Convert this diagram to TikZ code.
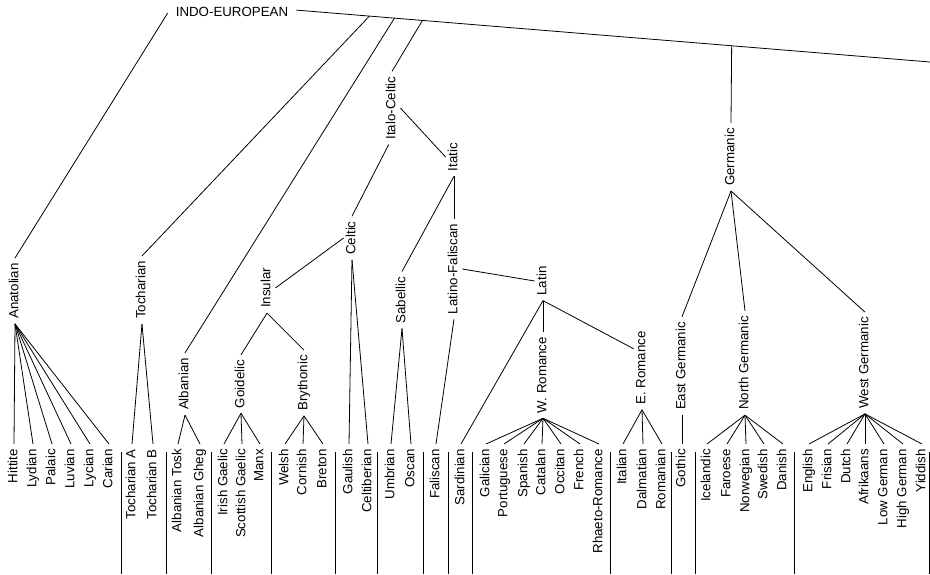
\documentclass[tikz,border=0pt]{standalone}
\usepackage{fontspec}
\setmainfont{Liberation Sans}
\usetikzlibrary{calc}
\begin{document}
\begin{tikzpicture}[x=1pt,y=-1pt,
  every node/.style={font=\fontsize{13.3}{15}\selectfont, inner xsep=5pt, inner ysep=2pt, text height=9.6pt, text depth=2.8pt},
  lab/.style={rotate=90},
  leaf/.style={rotate=90, anchor=east},
  edge/.style={draw, line width=0.8pt},
  sepline/.style={line width=0.8pt}]
\useasboundingbox (0,0) rectangle (930,574);

% inner nodes
\node[inner xsep=8pt] (ie) at (232,12.6) {INDO-EUROPEAN};
\coordinate (ieend) at (930,62);
\node[lab] (anat) at (15,291) {Anatolian};
\node[lab] (toch) at (142,290) {Tocharian};
\node[lab] (alb)  at (185,384) {Albanian};
\node[lab] (itce) at (392,108) {Italo-Celtic};
\node[lab] (itat) at (454,157) {Itatic};
\node[lab] (celt) at (352,238) {Celtic};
\node[lab] (insu) at (267,288) {Insular};
\node[lab] (goid) at (241,384) {Goidelic};
\node[lab] (bryt) at (304,383) {Brythonic};
\node[lab] (sabe) at (402,300) {Sabellic};
\node[lab] (lafa) at (454,269) {Latino-Faliscan};
\node[lab] (lati) at (543,281) {Latin};
\node[lab] (wrom) at (543,375) {W. Romance};
\node[lab] (erom) at (642,368) {E. Romance};
\node[lab] (germ) at (731,157) {Germanic};
\node[lab] (eger) at (682,366) {East Germanic};
\node[lab] (nger) at (745,363) {North Germanic};
\node[lab] (wger) at (865,363) {West Germanic};

% leaves
\foreach \n/\x/\t in {hit/14/Hittite, lyd/33/Lydian, pal/52/Palaic, luv/71/Luvian, lyc/90/Lycian, car/109/Carian,
  tca/132/Tocharian A, tcb/153/Tocharian B,
  atos/178/Albanian Tosk, aghe/200/Albanian Gheg,
  irg/224/Irish Gaelic, scg/242/Scottish Gaelic, manx/260/Manx,
  wel/285/Welsh, cor/303/Cornish, bre/323/Breton,
  gau/349/Gaulish, celb/368/Celtiberian,
  umb/391/Umbrian, osc/411/Oscan,
  fal/436/Faliscan, sard/461/Sardinian,
  gal/486/Galician, por/504/Portuguese, spa/524/Spanish, cat/542/Catalan, occ/561/Occitan, fre/580/French, rha/599/Rhaeto-Romance,
  ita/623/Italian, dal/643/Dalmatian, rom/662/Romanian,
  got/682/Gothic,
  ice/707/Icelandic, far/727/Faroese, nor/746/Norwegian, swe/764/Swedish, dan/783/Danish,
  eng/809/English, fri/828/Frisian, dut/847/Dutch, afr/865/Afrikaans, lge/884/Low German, hge/903/High German, yid/922/Yiddish}
  \node[leaf] (\n) at (\x,444) {\t};

% top connectors
\draw[edge] ([yshift=-0.5pt]ie.west) -- (anat.east);
\draw[edge] ([yshift=2.5pt]ie.east) -- coordinate[pos=0.1153] (bT) coordinate[pos=0.1548] (bA)
   coordinate[pos=0.199] (bI) coordinate[pos=0.687] (bG) (ieend);
\draw[edge] (bT) -- (toch.east);
\draw[edge] (bA) -- (alb.east);
\draw[edge] (bI) -- (itce.east);
\draw[edge] (bG) -- (germ.east);

% inner connectors
\draw[edge] ($(itce.west)!0.4!(itce.north west)$) -- (celt.east);
\draw[edge] (itce.south) -- (itat.north);
\draw[edge] (celt.north) -- (insu.south);
\draw[edge] (insu.west) -- (goid.east);
\draw[edge] (insu.west) -- (bryt.east);
\draw[edge] (itat.west) -- (sabe.east);
\draw[edge] (itat.west) -- (lafa.east);
\draw[edge] (lafa.south) -- (lati.north);
\draw[edge] (lati.west) -- (sard.east);
\draw[edge] (lati.west) -- (wrom.east);
\draw[edge] (lati.west) -- ($(erom.north east)!0.27!(erom.north west)$);
\draw[edge] (germ.west) -- (eger.east);
\draw[edge] (germ.west) -- (nger.east);
\draw[edge] (germ.west) -- (wger.east);

% fans to leaves
\foreach \p/\l in {anat/hit, anat/lyd, anat/pal, anat/luv, anat/lyc, anat/car,
  toch/tca, toch/tcb, alb/atos, alb/aghe,
  goid/irg, goid/scg, goid/manx, bryt/wel, bryt/cor, bryt/bre,
  celt/gau, celt/celb, sabe/umb, sabe/osc, lafa/fal,
  wrom/gal, wrom/por, wrom/spa, wrom/cat, wrom/occ, wrom/fre, wrom/rha,
  erom/ita, erom/dal, erom/rom, eger/got,
  nger/ice, nger/far, nger/nor, nger/swe, nger/dan,
  wger/eng, wger/fri, wger/dut, wger/afr, wger/lge, wger/hge, wger/yid}
  \draw[edge] (\p.west) -- (\l.east);

% separators
\foreach \x in {121,166,211,271,335,377,423,448,472,610,671,695,794,929.5}
  \draw[sepline] (\x,452) -- (\x,574);
\end{tikzpicture}
\end{document}
